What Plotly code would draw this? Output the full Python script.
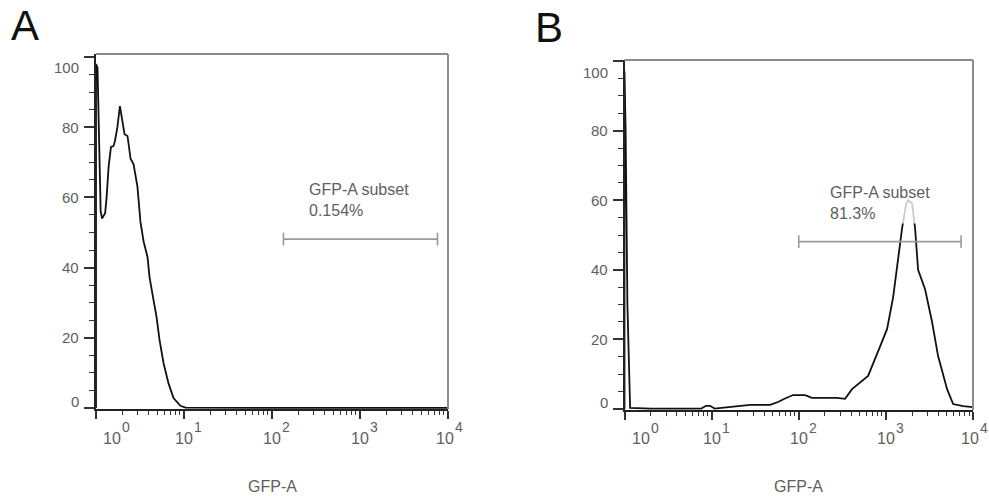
import numpy as np
import plotly.graph_objects as go

# GFP-A histograms (% of max) for the two samples
A_X = [1.0, 1.0, 1.04, 1.09, 1.13, 1.17, 1.27, 1.32, 1.39, 1.48, 1.58, 1.64, 1.75, 1.87,
       2.0, 2.11, 2.28, 2.47, 2.67, 2.96, 3.2, 3.47, 3.85, 4.06, 4.5, 4.87, 5.27, 5.85,
       6.67, 7.6, 9.1, 10.4, 100, 1000, 10000]
A_Y = [0, 98, 97, 70, 56, 54, 55.5, 60, 68.7, 74.4, 74.6, 76, 80, 86,
       81.5, 78, 77.5, 71, 69.5, 63, 53, 47.5, 43, 37.3, 30.8, 26, 19.4, 12.8,
       7, 2.8, 0.6, 0.1, 0, 0, 0]

B_X = [1.0, 1.0, 1.03, 1.08, 1.16, 2.0, 5.0, 7.6, 8.6, 9.6, 10.8, 16.3, 27.6, 46.8,
       57.8, 69.6, 86, 118, 142, 275, 340, 409, 625, 859, 1033, 1210, 1536, 1708,
       1800, 2000, 2163, 2342, 2818, 3390, 3975, 5043, 5916, 7700, 10000]
B_Y = [0, 97, 80, 30, 0.3, 0.1, 0.1, 0.1, 0.9, 0.9, 0.1, 0.6, 1.2, 1.2,
       2.0, 3.0, 4.0, 4.0, 3.2, 3.2, 2.9, 5.7, 9.5, 18, 23, 32, 52, 59,
       60, 59, 52, 40, 34.4, 25, 15.2, 5.7, 1.4, 0.8, 0.5]

# GFP-A subset gates: [low, high], level, and reported frequency
GATE_A = [135, 7600]
GATE_A_LEVEL = 48.1
GATE_A_TEXT = "0.154%"
GATE_B = [100, 7300]
GATE_B_LEVEL = 48.1
GATE_B_TEXT = "81.3%"

GATE_NAME = "GFP-A subset"
AXIS_TITLE = "GFP-A"
PANEL_LABELS = ["A", "B"]

X_TICKS = [1, 10, 100, 1000, 10000]
X_MINOR = [m * d for d in (1, 10, 100, 1000) for m in range(2, 10)]
Y_TICKS = [0, 20, 40, 60, 80, 100]

W, H = 989, 496
FONT = "Liberation Sans, Arial, sans-serif"
TEXT_GREY = "#5e5e5e"
AXIS_DARK = "#222222"
FRAME_GREY = "#8c8c8c"
GATE_GREY = "#9a9a9a"

fig = go.Figure()

panels = [
    dict(x=A_X, y=A_Y, gate=GATE_A, level=GATE_A_LEVEL, text=GATE_A_TEXT,
         px=(96, 448), py=(54, 409), yr=[-0.3, 100.85], label_dx=24,
         letter_xy=(24.5, 26)),
    dict(x=B_X, y=B_Y, gate=GATE_B, level=GATE_B_LEVEL, text=GATE_B_TEXT,
         px=(624.5, 973), py=(60, 410), yr=[-0.3, 100.3], label_dx=29,
         letter_xy=(548.5, 27)),
]

annotations = []
shapes = []

for i, p in enumerate(panels):
    n = "" if i == 0 else str(i + 1)
    xa, ya = "x" + n, "y" + n

    fig.add_trace(go.Scatter(
        x=p["x"], y=p["y"], mode="lines", xaxis=xa, yaxis=ya,
        line=dict(color="#111111", width=1.8), showlegend=False, hoverinfo="skip"))

    # gate bar with end caps
    g0, g1 = p["gate"]
    lv = p["level"]
    cap = 1.85
    fig.add_trace(go.Scatter(
        x=[g0, g1, None, g0, g0, None, g1, g1],
        y=[lv, lv, None, lv - cap, lv + cap, None, lv - cap, lv + cap],
        mode="lines", xaxis=xa, yaxis=ya,
        line=dict(color=GATE_GREY, width=1.6), showlegend=False, hoverinfo="skip"))

    axis_common = dict(showgrid=False, zeroline=False, showline=True,
                       linecolor=AXIS_DARK, linewidth=2, ticks="outside",
                       tickcolor="#333333", tickwidth=1.5, showticklabels=False)
    fig.update_layout(**{
        ("xaxis" + n): dict(
            type="log", range=[0, 4], anchor=ya,
            domain=[p["px"][0] / W, p["px"][1] / W],
            tickvals=X_TICKS, ticklen=8,
            minor=dict(tickvals=X_MINOR, ticks="outside", ticklen=4,
                       tickcolor="#333333", tickwidth=1.3, showgrid=False),
            **axis_common),
        ("yaxis" + n): dict(
            range=p["yr"], anchor=xa,
            domain=[(H - p["py"][1]) / H, (H - p["py"][0]) / H],
            tickvals=Y_TICKS, ticklen=10,
            minor=dict(dtick=5, tick0=0, ticks="outside", ticklen=5,
                       tickcolor="#333333", tickwidth=1.3, showgrid=False),
            **axis_common),
    })

    # top and right frame lines
    shapes.append(dict(type="line", xref=xa + " domain", yref=ya + " domain",
                       x0=0, x1=1, y0=1, y1=1,
                       line=dict(color=FRAME_GREY, width=2)))
    shapes.append(dict(type="line", xref=xa + " domain", yref=ya + " domain",
                       x0=1, x1=1, y0=0, y1=1,
                       line=dict(color=FRAME_GREY, width=2)))

    # x tick labels: 10 with exponent; end labels nudged inward
    last = len(X_TICKS) - 1
    for j, v in enumerate(X_TICKS):
        k = int(round(np.log10(v)))
        dx = 16 if j == 0 else (-3 if j == last else 0)
        annotations.append(dict(
            text="10", x=np.log10(v), xref=xa, y=0, yref=ya + " domain",
            xanchor="center", yanchor="middle", xshift=dx, yshift=-29,
            showarrow=False, font=dict(family=FONT, size=16, color=TEXT_GREY)))
        annotations.append(dict(
            text=str(k), x=np.log10(v), xref=xa, y=0, yref=ya + " domain",
            xanchor="left", yanchor="middle", xshift=dx + 8, yshift=-18,
            showarrow=False, font=dict(family=FONT, size=14, color=TEXT_GREY)))

    # y tick labels
    for v in Y_TICKS:
        dy = -11 if v == max(Y_TICKS) else (6 if v == min(Y_TICKS) else 0)
        annotations.append(dict(
            text=str(v), x=0, xref=xa + " domain", y=v, yref=ya,
            xanchor="right", yanchor="middle", xshift=-15, yshift=dy,
            showarrow=False, font=dict(family=FONT, size=15, color=TEXT_GREY)))

    # axis title
    annotations.append(dict(
        text=AXIS_TITLE, x=0.5, xref=xa + " domain", y=0, yref=ya + " domain",
        xanchor="center", yanchor="middle", yshift=-77,
        showarrow=False, font=dict(family=FONT, size=16, color=TEXT_GREY)))

    # gate label
    annotations.append(dict(
        text=GATE_NAME + "<br>" + p["text"], x=np.log10(g0), xref=xa, y=lv, yref=ya,
        xanchor="left", yanchor="middle", align="left",
        xshift=p["label_dx"], yshift=39, showarrow=False,
        bgcolor="rgba(255,255,255,0.78)",
        font=dict(family=FONT, size=16, color=TEXT_GREY)))

    # panel letter
    lx, ly = p["letter_xy"]
    annotations.append(dict(
        text=PANEL_LABELS[i], x=lx / W, xref="paper", y=(H - ly) / H, yref="paper",
        xanchor="center", yanchor="middle", showarrow=False,
        font=dict(family=FONT, size=42, color="#111111")))

fig.update_layout(
    width=W, height=H, margin=dict(l=0, r=0, t=0, b=0),
    paper_bgcolor="white", plot_bgcolor="white",
    annotations=annotations, shapes=shapes, showlegend=False)

fig.write_html("out.html")
